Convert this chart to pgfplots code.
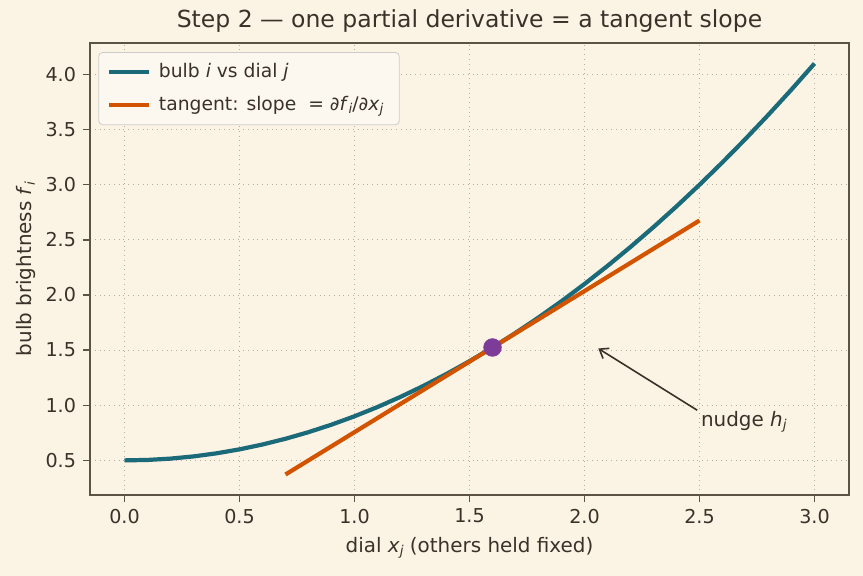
\documentclass[border=0pt]{standalone}
\usepackage{pgfplots}
\pgfplotsset{compat=1.18}
\usepackage{fontspec}
\setmainfont{DejaVu Sans}
\usetikzlibrary{backgrounds,calc,arrows.meta}
\definecolor{bg}{HTML}{FBF4E4}
\definecolor{spine}{HTML}{5E5343}
\definecolor{txt}{HTML}{3A3229}
\definecolor{gridc}{HTML}{B7AE9F}
\definecolor{teal}{HTML}{1B6A7A}
\definecolor{orng}{HTML}{D35400}
\definecolor{purp}{HTML}{7D3C98}
\newcommand\sub[1]{\raisebox{-0.3ex}{\fontsize{6.8}{8}\selectfont\itshape #1}}
\begin{document}
\begin{tikzpicture}
\begin{axis}[
  scale only axis,
  width=379.5bp, height=226bp,
  xmin=-0.15, xmax=3.15, ymin=0.186, ymax=4.286,
  xtick={0,0.5,...,3.0}, ytick={0.5,1.0,...,4.0},
  xticklabel style={/pgf/number format/.cd,fixed,fixed zerofill,precision=1},
  yticklabel style={/pgf/number format/.cd,fixed,fixed zerofill,precision=1},
  /pgf/number format/assume math mode=true,
  tick label style={font=\fontsize{9.6}{12}\selectfont, text=txt},
  label style={font=\fontsize{10}{12}\selectfont, text=txt},
  ylabel style={yshift=-2bp},
  title style={font=\fontsize{11.8}{14}\selectfont, text=txt, yshift=-4bp},
  title={Step 2 — one partial derivative = a tangent slope},
  xlabel={dial \textit{x}\sub{j} (others held fixed)},
  ylabel={bulb brightness \textit{f}\sub{i}},
  axis line style={spine, line width=0.9bp},
  tick style={spine, line width=0.7bp},
  tick align=outside, major tick length=3.5bp,
  xtick pos=bottom, ytick pos=left,
  grid=major, major grid style={gridc, dotted, line width=0.5bp},
  axis background/.style={fill=bg},
  legend cell align=left,
  legend style={at={(rel axis cs:0.011,0.98)}, anchor=north west, draw=gray!40, rounded corners=2bp, fill=bg!60!white, font=\fontsize{9.4}{12}\selectfont, text=txt, inner xsep=4bp, inner ysep=3.5bp, row sep=4bp, nodes={inner xsep=4bp}},
  legend image code/.code={\draw[#1] (0cm,0cm) -- (20bp,0cm);},
  clip=false,
]
\addplot[teal, line width=2.1bp] coordinates {
(0.0,0.500)(0.1,0.504)(0.2,0.516)(0.3,0.536)(0.4,0.564)(0.5,0.600)(0.6,0.644)(0.7,0.696)(0.8,0.756)(0.9,0.824)(1.0,0.900)(1.1,0.984)(1.2,1.076)(1.3,1.176)(1.4,1.284)(1.5,1.400)(1.6,1.524)(1.7,1.656)(1.8,1.796)(1.9,1.944)(2.0,2.100)(2.1,2.264)(2.2,2.436)(2.3,2.616)(2.4,2.804)(2.5,3.000)(2.6,3.204)(2.7,3.416)(2.8,3.636)(2.9,3.864)(3.0,4.100)};
\addlegendentry{bulb \textit{i} vs dial \textit{j}}
\addplot[orng, line width=2.1bp] coordinates {(0.7,0.372)(2.5,2.676)};
\addlegendentry{tangent: slope \ = \textit{∂f}\sub{i}/\textit{∂x}\sub{j}}
\addplot[only marks, mark=*, mark size=4.4bp, purp, mark options={draw=purp, fill=purp}, forget plot] coordinates {(1.6,1.524)};
\draw[-{Straight Barb[length=4bp,width=6bp]}, txt, line width=0.8bp] (axis cs:2.49,0.955) -- (axis cs:2.06,1.515);
\node[anchor=west, text=txt, font=\fontsize{10}{12}\selectfont, inner sep=0pt] at (axis cs:2.505,0.85) {nudge \textit{h}\sub{j}};
\end{axis}
\pgfresetboundingbox
\path[use as bounding box] ($(current axis.south west)+(-45bp,-40.5bp)$) rectangle ($(current axis.north east)+(7bp,21.5bp)$);
\begin{scope}[on background layer]
\fill[bg] ($(current axis.south west)+(-45bp,-40.5bp)$) rectangle ($(current axis.north east)+(7bp,21.5bp)$);
\end{scope}
\end{tikzpicture}
\end{document}
